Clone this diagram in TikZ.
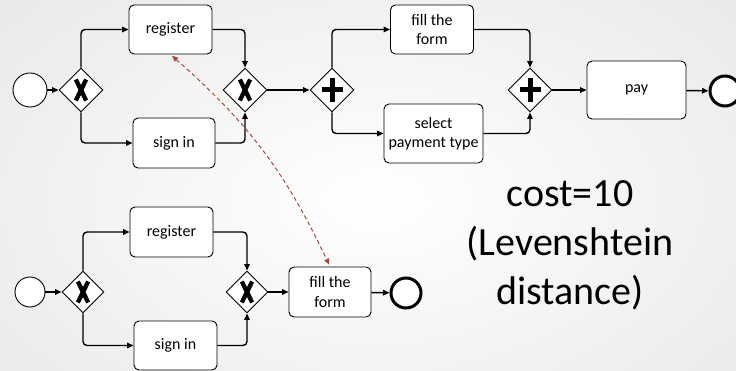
\documentclass[tikz,border=0pt]{standalone}
\usepackage{fontspec}
\setmainfont{Carlito}
\usetikzlibrary{shapes.geometric,arrows.meta,bending}
\definecolor{linkred}{RGB}{168,72,58}
\tikzset{
  x=1pt, y=1pt,
  flow/.style={line width=1.4pt, rounded corners=4pt, -{Triangle[length=6.5pt,width=5.5pt]}},
  task/.style={draw=black, line width=0.9pt, rounded corners=5pt, fill=white,
    font=\fontsize{16}{19.5}\selectfont, inner sep=1pt},
  task2/.style={task, align=center},
  startev/.style={circle, draw=black, line width=0.9pt, fill=white, inner sep=0pt},
  endev/.style={circle, draw=black, line width=3pt, fill=white, inner sep=0pt},
  gwbase/.style={diamond, draw=black, line width=0.9pt, fill=white, inner sep=0pt, aspect=1,
    minimum width=44pt, minimum height=44pt},
  xorgw/.style={gwbase, path picture={
    \draw[line width=4.3pt] ([shift={(-5.2,-10.5)}]path picture bounding box.center) -- ([shift={(5.2,10.5)}]path picture bounding box.center);
    \draw[line width=4.3pt] ([shift={(-5.2,10.5)}]path picture bounding box.center) -- ([shift={(5.2,-10.5)}]path picture bounding box.center);}},
  andgw/.style={gwbase, path picture={
    \draw[line width=5pt] ([shift={(-10.5,0)}]path picture bounding box.center) -- ([shift={(10.5,0)}]path picture bounding box.center);
    \draw[line width=5pt] ([shift={(0,-12)}]path picture bounding box.center) -- ([shift={(0,12)}]path picture bounding box.center);}},
  maplink/.style={draw=linkred, line width=1pt, dash pattern=on 4pt off 3pt,
    {Triangle[length=6pt,width=5pt]}-{Triangle[length=6pt,width=5pt]}}
}
\begin{document}
\begin{tikzpicture}
\useasboundingbox (0,0) rectangle (736,-371);
\shade[inner color=white, outer color=black!9] (-150,120) rectangle (900,-520);

% top process
\node[startev, minimum size=34pt] (s1) at (30,-90) {};
\node[xorgw] (g1) at (81,-90) {};
\node[task, minimum width=83pt, minimum height=49pt] (r1) at (170.5,-29.5) {register};
\node[task, minimum width=82pt, minimum height=50pt] (si1) at (174,-143) {sign in};
\node[xorgw] (g2) at (245,-90) {};
\node[andgw] (p1) at (332,-90) {};
\node[task2, minimum width=83pt, minimum height=49pt] (f1) at (432,-29.5) {fill the\\form};
\node[task2, minimum width=99pt, minimum height=59pt] (sp1) at (433.5,-133.5) {select\\payment type};
\node[andgw] (p2) at (530,-90) {};
\node[task, minimum width=99pt, minimum height=58pt] (pay) at (636.5,-90) {pay};
\node[endev, minimum size=30pt] (e1) at (725,-91) {};

\draw[flow] (s1) -- (g1);
\draw[flow] (g1.north) |- (r1.west);
\draw[flow] (g1.south) |- (si1.west);
\draw[flow] (r1.east) -| (g2.north);
\draw[flow] (si1.east) -| (g2.south);
\draw[flow] (g2) -- (p1);
\draw[flow] (p1.north) |- (f1.west);
\draw[flow] (p1.south) |- (sp1.west);
\draw[flow] (f1.east) -| (p2.north);
\draw[flow] (sp1.east) -| (p2.south);
\draw[flow] (p2) -- (pay);
\draw[flow] (pay) -- (e1);

% bottom process
\node[startev, minimum size=30pt] (s2) at (30,-292) {};
\node[xorgw, minimum width=42pt, minimum height=42pt] (g3) at (83,-292) {};
\node[task, minimum width=83pt, minimum height=50pt] (r2) at (171.5,-232) {register};
\node[task, minimum width=83pt, minimum height=49pt] (si2) at (175.5,-345.5) {sign in};
\node[xorgw, minimum width=42pt, minimum height=42pt] (g4) at (247,-292) {};
\node[task2, minimum width=82pt, minimum height=50pt] (f2) at (330,-292) {fill the\\form};
\node[endev, minimum size=30pt] (e2) at (406,-293) {};

\draw[flow] (s2) -- (g3);
\draw[flow] (g3.north) |- (r2.west);
\draw[flow] (g3.south) |- (si2.west);
\draw[flow] (r2.east) -| (g4.north);
\draw[flow] (si2.east) -| (g4.south);
\draw[flow] (g4) -- (f2);
\draw[flow] (f2) -- (e2);

% mapping link
\draw[maplink, shorten <=2pt, shorten >=2pt] (r1.south) to[bend left=12] (f2.north);

% cost label
\node[align=center, font=\fontsize{40}{49}\selectfont, inner sep=0pt] (cost) at (570,-245)
  {cost=10\\(Levenshtein\\distance)};
\end{tikzpicture}
\end{document}
